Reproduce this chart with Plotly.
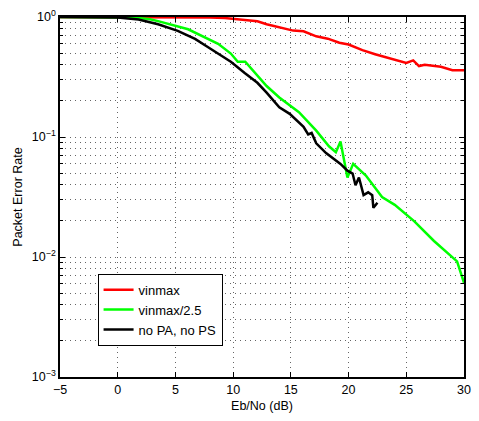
import plotly.graph_objects as go

# Eb/No sweep results (dB vs packet error rate)
ebno_vinmax = [-5, 0, 5, 8, 9.3, 12.1, 12.9, 15.2, 16.1, 17.2, 18.2, 19.2, 20.0, 21.2,
               22.3, 23.4, 25.0, 25.6, 26.1, 26.6, 28.0, 29.0, 30.0]
per_vinmax = [1.0, 1.0, 1.0, 0.99, 0.98, 0.92, 0.87, 0.77, 0.76, 0.69, 0.66, 0.61, 0.59, 0.53,
              0.49, 0.456, 0.415, 0.435, 0.39, 0.40, 0.385, 0.36, 0.36]

ebno_vin25 = [-5, -2, 0, 1.2, 2.7, 3.5, 6.1, 8.7, 9.8, 10.4, 11.05, 11.8, 12.9, 14.0, 15.7,
              17.2, 18.3, 18.9, 19.3, 19.9, 20.4, 21.5, 22.9, 24.0, 25.7, 27.4, 29.4, 30.0]
per_vin25 = [1.0, 1.0, 1.0, 0.99, 0.963, 0.924, 0.79, 0.597, 0.496, 0.424, 0.424, 0.352, 0.266,
             0.2135, 0.161, 0.113, 0.0837, 0.0748, 0.0919, 0.046, 0.0597, 0.0477, 0.0316,
             0.0272, 0.0198, 0.0136, 0.0092, 0.0061]

ebno_nopa = [-5, -2, 0, 1.8, 3.5, 5.2, 6.7, 7.8, 8.9, 9.8, 11.0, 12.1, 12.9, 14.0, 14.9, 16.1,
             16.5, 16.8, 17.2, 18.05, 19.3, 19.9, 20.35, 20.6, 20.9, 21.3, 21.7, 22.05, 22.15, 22.5]
per_nopa = [1.0, 1.0, 0.99, 0.954, 0.869, 0.767, 0.656, 0.562, 0.48, 0.424, 0.341, 0.283, 0.234,
            0.177, 0.156, 0.1217, 0.105, 0.108, 0.0886, 0.0734, 0.0597, 0.0524, 0.0496, 0.0396,
            0.046, 0.0328, 0.0346, 0.0328, 0.0257, 0.0283]

series_names = ["vinmax", "vinmax/2.5", "no PA, no PS"]
series_colors = ["#ff0000", "#00ff00", "#000000"]

x_ticks = [-5, 0, 5, 10, 15, 20, 25, 30]
x_ticktext = ["\u22125", "0", "5", "10", "15", "20", "25", "30"]
y_ticks = [1e-3, 1e-2, 1e-1, 1]
y_ticktext = ["10<sup>\u22123</sup>", "10<sup>\u22122</sup>", "10<sup>\u22121</sup>", "10<sup>0</sup>"]
y_minor = [m * 10 ** e for e in (-3, -2, -1) for m in range(2, 10)]

fig = go.Figure()
for xs, ys, name, color in zip([ebno_vinmax, ebno_vin25, ebno_nopa],
                               [per_vinmax, per_vin25, per_nopa],
                               series_names, series_colors):
    fig.add_trace(go.Scatter(x=xs, y=ys, mode="lines", name=name,
                             line=dict(color=color, width=2.5)))

font = "Liberation Sans, Arial, Helvetica, sans-serif"
grid_dash = "1px,4px"

fig.update_layout(
    width=479, height=421,
    margin=dict(l=60, r=9, t=8, b=44),
    paper_bgcolor="white", plot_bgcolor="white",
    font=dict(family=font, size=12.5, color="black"),
    showlegend=True,
    legend=dict(x=0.093, y=0.287, xanchor="left", yanchor="top",
                bgcolor="white", bordercolor="black", borderwidth=1,
                font=dict(size=13), tracegroupgap=0),
)

fig.update_xaxes(
    range=[-5, 30], tickvals=x_ticks, ticktext=x_ticktext,
    showline=True, linecolor="black", linewidth=1.5, mirror="allticks",
    ticks="inside", ticklen=5, tickcolor="black",
    showgrid=True, gridcolor="#666", griddash=grid_dash, gridwidth=1,
    zeroline=False,
    title=dict(text="Eb/No (dB)", standoff=5, font=dict(size=12.5)),
)

fig.update_yaxes(
    type="log", range=[-3, 0], tickvals=y_ticks, ticktext=y_ticktext,
    showline=True, linecolor="black", linewidth=1.5, mirror="allticks",
    ticks="inside", ticklen=5, tickcolor="black",
    showgrid=True, gridcolor="#666", griddash=grid_dash, gridwidth=1,
    zeroline=False,
    minor=dict(tickvals=y_minor, ticks="inside", ticklen=3, tickcolor="black",
               showgrid=True, gridcolor="#666", griddash=grid_dash, gridwidth=1),
    title=dict(text="Packet Error Rate", standoff=6, font=dict(size=12.5)),
)

fig.write_html("out.html")
